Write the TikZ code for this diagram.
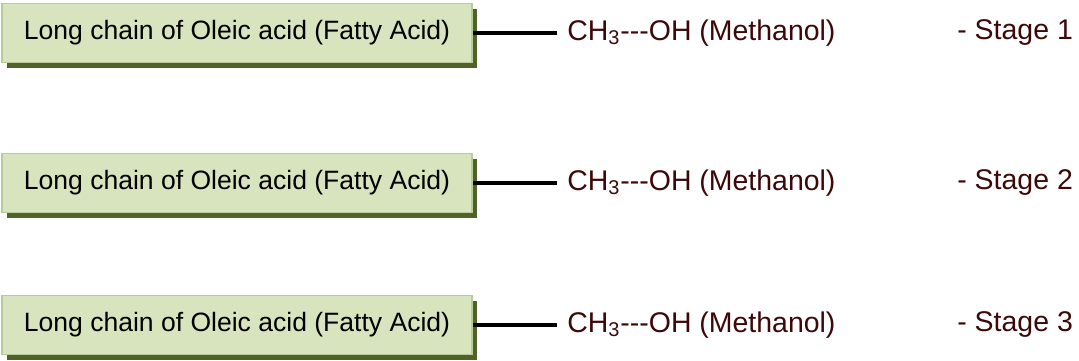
\documentclass[tikz,border=0pt]{standalone}
\usepackage{fontspec}
\setmainfont{Liberation Sans}
\usetikzlibrary{shadows}
\definecolor{boxfill}{HTML}{D7E4BD}
\definecolor{boxedge}{HTML}{B9CB98}
\definecolor{boxshade}{HTML}{4F6228}
\definecolor{maroontext}{HTML}{3C0808}
\tikzset{
  acidbox/.style={draw=boxedge,line width=1.1pt,fill=boxfill,inner sep=0pt,
    minimum width=9.42cm,minimum height=1.18cm,
    font=\fontsize{15.1}{18}\selectfont,
    general shadow={shadow xshift=0.1cm,shadow yshift=-0.1cm,fill=boxshade,draw=none}},
  methlabel/.style={anchor=west,inner xsep=0.2cm,inner ysep=0pt,text=maroontext,
    font=\fontsize{16.2}{19}\selectfont},
  stagelabel/.style={anchor=west,inner sep=0pt,text=maroontext,
    font=\fontsize{16.2}{19}\selectfont},
  bond/.style={line width=1.8pt}
}
\newcommand{\methtext}{CH\textsubscript{3}-{}-{}-OH (Methanol)}
\begin{document}
\begin{tikzpicture}[x=0.02cm,y=-0.02cm]
\useasboundingbox (0,0) rectangle (1079,360);
% stage 1
\node[acidbox] (acid1) at (237,33) {Long chain of Oleic acid (Fatty Acid)};
\node[methlabel] (meth1) at (557,33) {\methtext};
\node[stagelabel] (stage1) at (957,33) {- Stage 1};
\draw[bond] (acid1.east) -- (meth1.west);
% stage 2
\node[acidbox] (acid2) at (237,183) {Long chain of Oleic acid (Fatty Acid)};
\node[methlabel] (meth2) at (557,183) {\methtext};
\node[stagelabel] (stage2) at (957,183) {- Stage 2};
\draw[bond] (acid2.east) -- (meth2.west);
% stage 3
\node[acidbox] (acid3) at (237,325) {Long chain of Oleic acid (Fatty Acid)};
\node[methlabel] (meth3) at (557,325) {\methtext};
\node[stagelabel] (stage3) at (957,325) {- Stage 3};
\draw[bond] (acid3.east) -- (meth3.west);
\end{tikzpicture}
\end{document}
